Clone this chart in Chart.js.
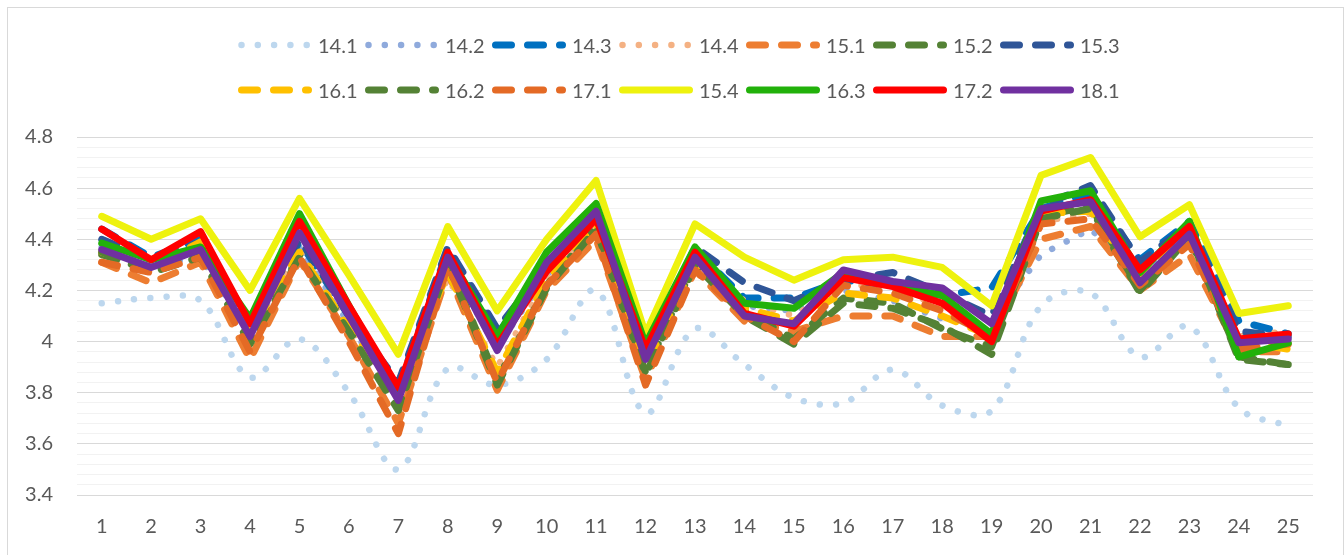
<!DOCTYPE html>
<html><head><meta charset="utf-8">
<script src="https://cdn.jsdelivr.net/npm/chart.js@4.4.0/dist/chart.umd.min.js"></script>
<style>
html,body{margin:0;padding:0;background:#fff;}
#wrap{position:relative;width:1344px;height:555px;overflow:hidden;background:#fff;font-family:Lato,sans-serif;}
#frame{position:absolute;left:7px;top:7px;width:1337px;height:560px;border:1px solid #D9D9D9;box-sizing:border-box;}
canvas{position:absolute;left:0;top:0;}
.row{position:absolute;left:238px;height:24px;display:flex;align-items:center;}
.item{width:127px;display:flex;align-items:center;flex:none;}
.item span{margin-left:6px;font-size:20px;color:#595959;line-height:24px;white-space:nowrap;}
svg{display:block;flex:none;}
</style></head>
<body><div id="wrap"><div id="frame"></div><canvas id="c" width="1344" height="555"></canvas><div id="leg"></div></div>
<script>
const categories = ['1','2','3','4','5','6','7','8','9','10','11','12','13','14','15','16','17','18','19','20','21','22','23','24','25'];
const yTicksMajor = [3.4,3.6,3.8,4.0,4.2,4.4,4.6,4.8];

const s14_1 = [4.15,4.17,4.16,3.86,4.01,3.80,3.50,3.895,3.83,3.93,4.20,3.72,4.05,3.91,3.78,3.76,3.89,3.75,3.73,4.14,4.19,3.94,4.06,3.74,3.67];
const s14_2 = [4.37,4.30,4.33,4.03,4.37,4.07,3.79,4.30,3.98,4.26,4.47,3.92,4.32,4.14,4.12,4.20,4.16,4.09,4.08,4.34,4.44,4.26,4.40,4.00,4.02];
const s14_3 = [4.44,4.33,4.40,4.06,4.39,4.10,3.82,4.36,4.03,4.28,4.49,3.94,4.36,4.17,4.17,4.24,4.22,4.18,4.21,4.52,4.58,4.32,4.47,4.08,4.03];
const s14_4 = [4.34,4.30,4.36,4.05,4.36,4.06,3.79,4.25,3.90,4.25,4.45,3.90,4.30,4.16,4.10,4.22,4.22,4.13,4.04,4.47,4.50,4.25,4.41,4.02,4.04];
const s15_1 = [4.31,4.23,4.31,3.93,4.32,4.02,3.68,4.27,3.81,4.20,4.40,3.85,4.28,4.08,4.04,4.10,4.10,4.02,4.02,4.40,4.45,4.20,4.34,3.96,3.96];
const s15_2 = [4.34,4.28,4.34,4.00,4.34,4.05,3.74,4.31,3.85,4.22,4.45,3.88,4.31,4.12,4.01,4.17,4.15,4.05,3.98,4.49,4.53,4.20,4.42,3.93,3.91];
const s15_3 = [4.40,4.32,4.39,4.05,4.40,4.10,3.84,4.37,4.05,4.30,4.50,3.95,4.37,4.23,4.16,4.24,4.27,4.19,4.10,4.53,4.61,4.31,4.46,4.04,4.02];
const s16_1 = [4.35,4.29,4.39,4.04,4.35,4.05,3.80,4.27,3.88,4.24,4.46,3.90,4.31,4.13,4.08,4.19,4.17,4.10,4.02,4.50,4.51,4.24,4.43,4.00,3.97];
const s16_2 = [4.35,4.27,4.33,3.99,4.33,4.04,3.73,4.30,3.83,4.21,4.44,3.87,4.30,4.10,3.99,4.15,4.13,4.06,3.95,4.48,4.52,4.19,4.41,3.94,3.91];
const s17_1 = [4.31,4.27,4.33,3.96,4.33,4.00,3.64,4.30,3.84,4.22,4.42,3.83,4.28,4.10,4.00,4.22,4.19,4.12,4.02,4.46,4.48,4.22,4.38,3.97,3.99];
const s15_4 = [4.49,4.40,4.48,4.20,4.56,4.26,3.95,4.45,4.12,4.40,4.63,4.03,4.46,4.33,4.24,4.32,4.33,4.29,4.14,4.65,4.72,4.41,4.535,4.11,4.14];
const s16_3 = [4.385,4.32,4.37,4.09,4.50,4.14,3.80,4.34,4.02,4.35,4.54,3.99,4.37,4.15,4.13,4.27,4.22,4.18,4.03,4.55,4.59,4.27,4.47,3.94,3.995];
const s17_2 = [4.44,4.32,4.43,4.07,4.47,4.14,3.82,4.35,3.985,4.275,4.48,3.97,4.35,4.11,4.06,4.25,4.215,4.15,4.00,4.51,4.555,4.28,4.45,4.01,4.03];
const s18_1 = [4.36,4.29,4.36,4.02,4.425,4.10,3.77,4.33,3.965,4.31,4.51,3.93,4.33,4.10,4.07,4.28,4.235,4.21,4.07,4.52,4.547,4.23,4.42,3.995,4.01];

const seriesNames  = ['14.1','14.2','14.3','14.4','15.1','15.2','15.3','16.1','16.2','17.1','15.4','16.3','17.2','18.1'];
const seriesValues = [s14_1,s14_2,s14_3,s14_4,s15_1,s15_2,s15_3,s16_1,s16_2,s17_1,s15_4,s16_3,s17_2,s18_1];
const seriesColors = ['#BDD7EE','#8FAADC','#0070C0','#F4B183','#ED7D31','#548235','#2F5597','#FFC000','#548235','#E46A25','#EEF20E','#22B10A','#FF0000','#7030A0'];
const seriesStyles = ['dot','dot','dash','dot','dash','dash','dash','dash','dash','dash','solid','solid','solid','solid'];
const seriesSmooth = [true,false,false,false,false,false,false,false,false,false,false,false,false,false];

const DOT = [0.001, 16.3], DASH = [16, 16];
function dashFor(s){ return s==='dot'?DOT:(s==='dash'?DASH:[]); }
function widthFor(s){ return s==='dot'?6.5:7; }

const N = seriesNames.length;
const datasets = seriesNames.map((name,i)=>({
  label: name,
  data: seriesValues[i],
  borderColor: seriesColors[i],
  backgroundColor: seriesColors[i],
  borderWidth: widthFor(seriesStyles[i]),
  borderDash: dashFor(seriesStyles[i]),
  borderCapStyle: 'round',
  borderJoinStyle: 'round',
  pointRadius: 0,
  pointHoverRadius: 0,
  tension: seriesSmooth[i] ? 0.35 : 0,
  fill: false,
  order: N - i
}));

// HTML legend (two rows of seven, like the original)
const leg = document.getElementById('leg');
[[0,7,33],[7,14,78]].forEach(([a,b,top])=>{
  const row = document.createElement('div');
  row.className='row'; row.style.top = top+'px';
  for(let i=a;i<b;i++){
    const it = document.createElement('div'); it.className='item';
    const st = seriesStyles[i];
    const d = dashFor(st);
    const dash = d.length ? `stroke-dasharray="${d.join(' ')}"` : '';
    it.innerHTML = `<svg width="74" height="10"><line x1="3.5" y1="5" x2="70.5" y2="5" stroke="${seriesColors[i]}" stroke-width="${widthFor(st)}" stroke-linecap="round" ${dash}/></svg><span>${seriesNames[i]}</span>`;
    row.appendChild(it);
  }
  leg.appendChild(row);
});

const isMajor = v => yTicksMajor.some(m => Math.abs(m - v) < 1e-6);
const tickFont = {family:'Lato', size:20};

new Chart(document.getElementById('c'), {
  type:'line',
  data:{labels:categories, datasets},
  options:{
    responsive:false, animation:false,
    layout:{padding:{top:137, right:31, bottom:16, left:0}},
    plugins:{legend:{display:false}, tooltip:{enabled:false}},
    scales:{
      x:{offset:true, grid:{display:false, drawTicks:false}, border:{display:false},
         afterFit(s){ s.height = 44; },
         ticks:{color:'#595959', font:tickFont, padding:20, maxRotation:0, autoSkip:false}},
      y:{min:3.4, max:4.8, border:{display:false},
         afterFit(s){ s.width = 77; },
         grid:{drawTicks:false, lineWidth:1, color: c => isMajor(c.tick.value) ? '#D9D9D9' : '#F2F2F2'},
         ticks:{stepSize:0.04, autoSkip:false, padding:24, color:'#595959', font:tickFont,
                callback: v => isMajor(v) ? String(Math.round(v*10)/10) : ''}}
    }
  }
});
</script>
</body></html>
